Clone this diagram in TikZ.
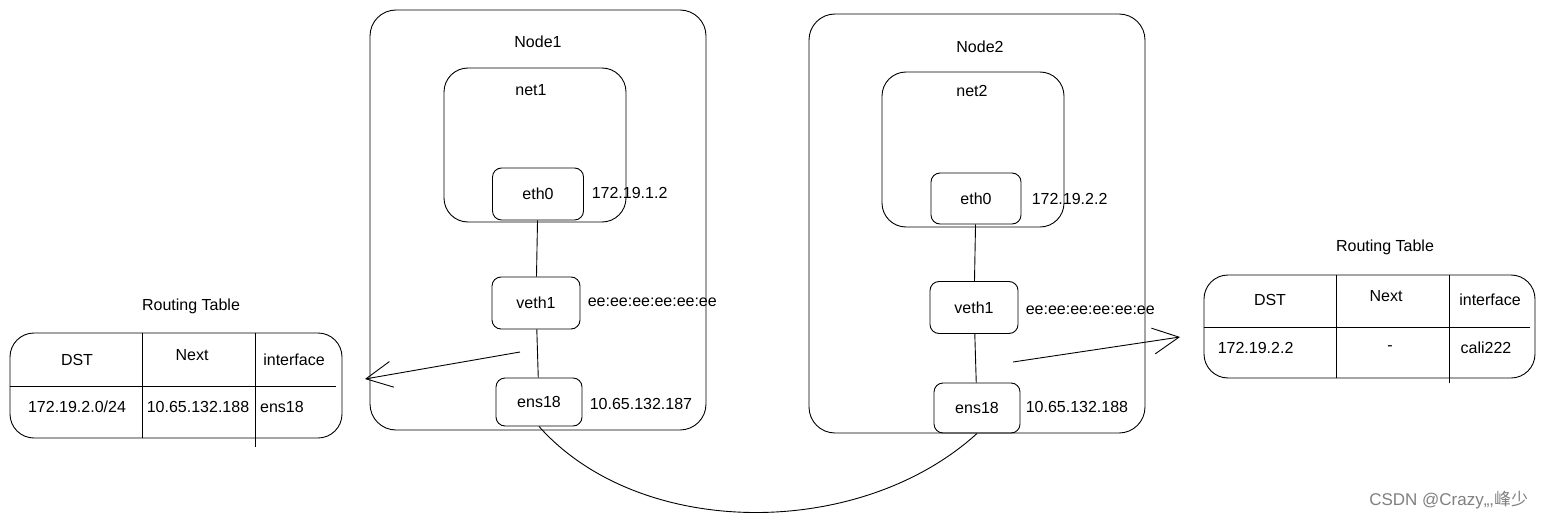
\documentclass[tikz,border=0pt]{standalone}
\usepackage{fontspec}
\setmainfont{Liberation Sans}
\newfontfamily\cjk{Noto Sans CJK SC}
\usetikzlibrary{arrows.meta}

\begin{document}
\begin{tikzpicture}[x=1pt,y=-1pt,line width=0.9pt,
        font=\fontsize{16}{19}\selectfont,
        outer/.style={draw,rounded corners=26pt},
        ifc/.style={draw,rounded corners=9pt,minimum width=88pt,minimum height=52pt},
        tbl/.style={draw,rounded corners=24pt},
        addr/.style={anchor=west},
        barb/.style={-{Straight Barb[length=26pt,width=26pt]}}]
        \useasboundingbox (0,0) rectangle (1546,524);
        % Node1
        \node[outer,minimum width=336pt,minimum height=420pt] (node1) at (538,220) {};
        \node (node1lbl) at (538,42) {Node1};
        \node[outer,rounded corners=24pt,minimum width=182pt,minimum height=154pt] (net1) at (535,145) {};
        \node (net1lbl) at (531,90) {net1};
        \node[ifc,minimum width=91pt] (eth1) at (538,194) {eth0};
        \node[addr] (eth1ip) at (588,193) {172.19.1.2};
        \node[ifc] (veth1) at (536,303) {veth1};
        \node[addr] (veth1mac) at (584,302) {ee:ee:ee:ee:ee:ee};
        \node[ifc,minimum width=86pt,minimum height=48pt] (ens1) at (539,402) {ens18};
        \node[addr] (ens1ip) at (586,404) {10.65.132.187};
        \draw (eth1) -- (veth1);
        \draw (veth1) -- (ens1);
        % Node2
        \node[outer,minimum width=336pt,minimum height=419pt] (node2) at (977,223.5) {};
        \node (node2lbl) at (980,47) {Node2};
        \node[outer,rounded corners=24pt,minimum width=182pt,minimum height=155pt] (net2) at (973,149.5) {};
        \node (net2lbl) at (972,91) {net2};
        \node[ifc,minimum width=90pt,minimum height=51pt] (eth2) at (976,198.5) {eth0};
        \node[addr] (eth2ip) at (1028,199) {172.19.2.2};
        \node[ifc] (veth2) at (974,307.5) {veth1};
        \node[addr] (veth2mac) at (1022,310) {ee:ee:ee:ee:ee:ee};
        \node[ifc,minimum width=86pt,minimum height=50pt] (ens2) at (977,408) {ens18};
        \node[addr] (ens2ip) at (1022,407) {10.65.132.188};
        \draw (eth2) -- (veth2);
        \draw (veth2) -- (ens2);
        % link between the nodes
        \draw (ens1.south) .. controls (640,540) and (860,540) .. (ens2.south);
        % routing table of Node1
        \node (rt1lbl) at (191,306) {Routing Table};
        \node[tbl,minimum width=332pt,minimum height=105pt] (rt1) at (176,385.5) {};
        \draw (10,386) -- (336,386);
        \draw (142,333) -- (142,438);
        \draw (255,333) -- (255,447);
        \node (rt1dst) at (77,360) {DST};
        \node (rt1next) at (192,355) {Next};
        \node (rt1if) at (294,360) {interface};
        \node (rt1d) at (77,407) {172.19.2.0/24};
        \node (rt1n) at (198,407) {10.65.132.188};
        \node (rt1i) at (282,407) {ens18};
        \coordinate (a1) at (520,352);
        \coordinate (a1e) at (365,379);
        \draw[barb] (a1) -- (a1e);
        % routing table of Node2
        \node (rt2lbl) at (1385,247) {Routing Table};
        \node[tbl,minimum width=331pt,minimum height=103pt] (rt2) at (1369.5,326.5) {};
        \draw (1204,327) -- (1530,327);
        \draw (1336,275) -- (1336,378);
        \draw (1449,275) -- (1449,383);
        \node (rt2dst) at (1270,300) {DST};
        \node (rt2next) at (1386,296) {Next};
        \node (rt2if) at (1490,300) {interface};
        \node[addr] (rt2d) at (1214,348) {172.19.2.2};
        \node (rt2n) at (1390,348) {-};
        \node (rt2i) at (1486,348) {cali222};
        \coordinate (a2) at (1013,362);
        \coordinate (a2e) at (1180,337);
        \draw[barb] (a2) -- (a2e);
        % watermark
        \node[anchor=east,text=gray,font=\fontsize{17}{20}\selectfont] (mark) at (1532,500) {CSDN @Crazy,,,{\cjk 峰少}};
\end{tikzpicture}
\end{document}
